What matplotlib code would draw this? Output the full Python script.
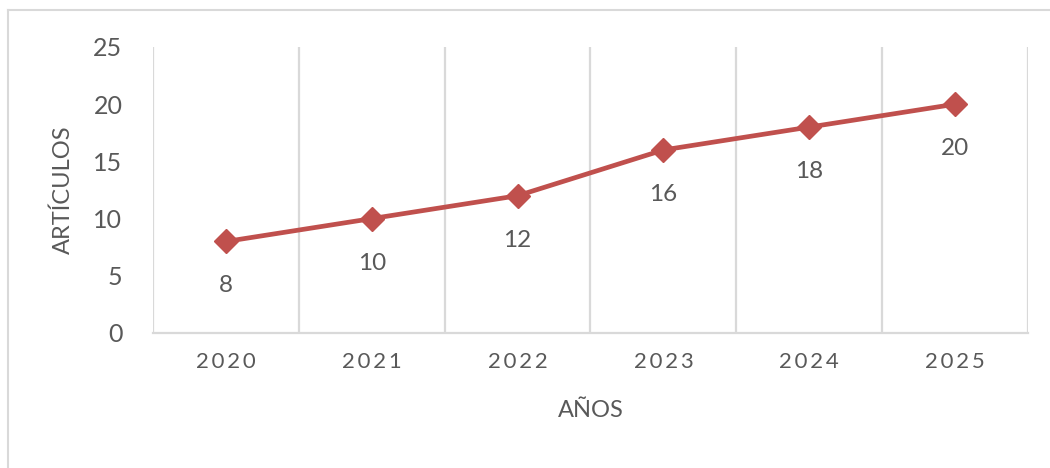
import matplotlib
matplotlib.use("Agg")
from matplotlib import pyplot as plt
from matplotlib.lines import Line2D

# data
years = ["2020", "2021", "2022", "2023", "2024", "2025"]
articulos = [8, 10, 12, 16, 18, 20]
y_ticks = [0, 5, 10, 15, 20, 25]

line_color = "#C0504D"
text_color = "#595959"
grid_color = "#D9D9D9"

plt.rcParams['font.family'] = ['Lato', 'DejaVu Sans']

fig = plt.figure(figsize=(10.5, 4.68), dpi=100)
ax = fig.add_axes([153/1050, 1 - 333/468, (1028 - 153)/1050, (333 - 47)/468])

x = list(range(len(years)))
ax.plot(x, articulos, color=line_color, lw=3.4, marker='D', ms=12, zorder=3)

for xi, v in zip(x, articulos):
    ax.annotate(str(v), (xi, v), xytext=(0, -32), textcoords='offset points',
                ha='center', va='center', fontsize=17.5, color=text_color)

# vertical gridlines at category boundaries
for b in range(len(years) + 1):
    ax.axvline(b - 0.5, color=grid_color, lw=1.6, zorder=1)

ax.set_xlim(-0.5, len(years) - 0.5)
ax.set_ylim(0, 25)
ax.set_yticks(y_ticks)
ax.set_xticks(x)
ax.set_xticklabels(["\u2009".join(y) for y in years])

for s in ['top', 'right', 'left']:
    ax.spines[s].set_visible(False)
ax.spines['bottom'].set_color(grid_color)
ax.spines['bottom'].set_linewidth(1.6)

ax.tick_params(axis='both', length=0, colors=text_color)
ax.tick_params(axis='y', labelsize=18, pad=22)
ax.tick_params(axis='x', labelsize=16, pad=14)

ax.set_ylabel("ARTÍCULOS", fontsize=17, color=text_color, labelpad=14)
ax.set_xlabel("AÑOS", fontsize=17, color=text_color, labelpad=20)

# outer chart frame (left and top edges visible)
fig.add_artist(Line2D([8/1050, 8/1050], [0, 1 - 10/468], transform=fig.transFigure,
                      color=grid_color, lw=1.5))
fig.add_artist(Line2D([8/1050, 1], [1 - 10/468, 1 - 10/468], transform=fig.transFigure,
                      color=grid_color, lw=1.5))

fig.savefig("out.png", dpi=100, facecolor="white")
